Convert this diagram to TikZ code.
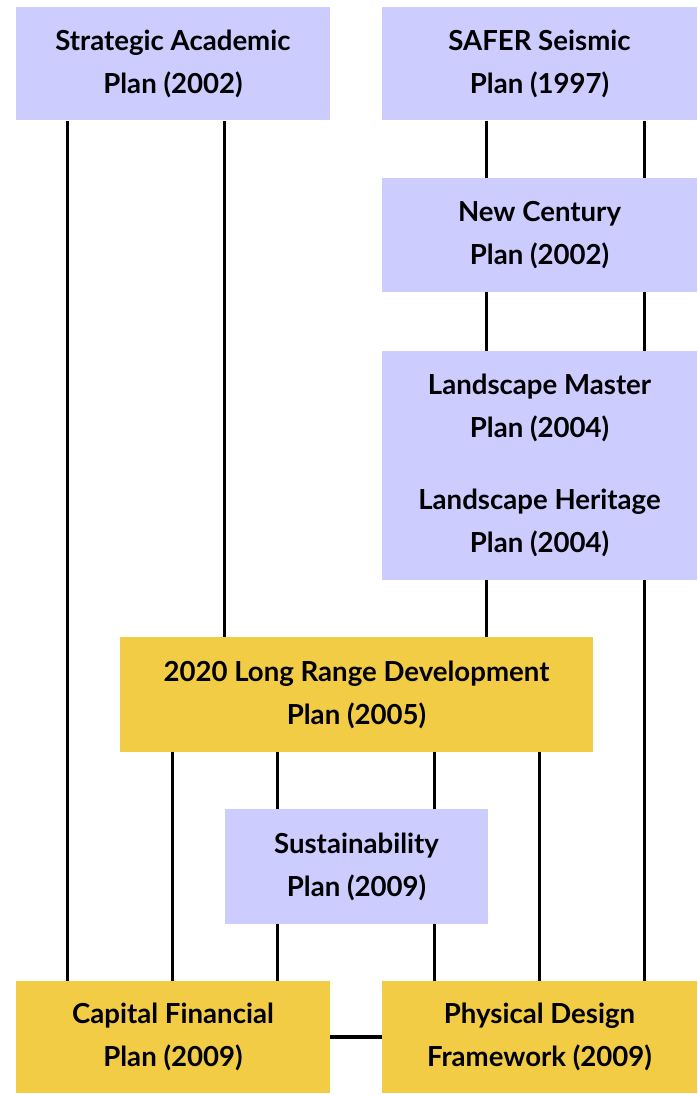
\documentclass[tikz,border=0pt]{standalone}
\usepackage{fontspec}
\setmainfont{Lato}
\definecolor{lav}{RGB}{204,204,255}
\definecolor{gold}{RGB}{242,204,68}
\newcommand\bxfont{\fontsize{27.6}{43}\selectfont\bfseries}
\tikzset{
  planbox/.style={rectangle, inner sep=0pt, font=\bxfont, align=center, text=black},
  lavbox/.style={planbox, fill=lav},
  goldbox/.style={planbox, fill=gold},
  link/.style={line width=3pt, black}
}
\begin{document}
\begin{tikzpicture}[x=1pt,y=-1pt]
\useasboundingbox[fill=white] (0,0) rectangle (698,1094);
\node[lavbox, minimum width=314pt, minimum height=113pt] (A) at (173,64) {Strategic Academic\\Plan (2002)};
\node[lavbox, minimum width=315pt, minimum height=113pt] (B) at (539.5,64) {SAFER Seismic\\Plan (1997)};
\node[lavbox, minimum width=315pt, minimum height=114pt] (C) at (539.5,235) {New Century\\Plan (2002)};
\node[lavbox, minimum width=315pt, minimum height=229pt] (D) at (539.5,465.5) {Landscape Master\\Plan (2004)\\[29pt]Landscape Heritage\\Plan (2004)};
\node[goldbox, minimum width=473pt, minimum height=115pt] (E) at (356.5,694.5) {2020 Long Range Development\\Plan (2005)};
\node[lavbox, minimum width=263pt, minimum height=115pt] (F) at (356.5,866.5) {Sustainability\\Plan (2009)};
\node[goldbox, minimum width=314pt, minimum height=112pt] (G) at (173,1037) {Capital Financial\\Plan (2009)};
\node[goldbox, minimum width=315pt, minimum height=112pt] (H) at (539.5,1037) {Physical Design\\Framework (2009)};
\coordinate (x67) at (67,0);
\coordinate (x224) at (224,0);
\coordinate (x486) at (486,0);
\coordinate (x644) at (644,0);
\coordinate (x172) at (172,0);
\coordinate (x277) at (277,0);
\coordinate (x434) at (434,0);
\coordinate (x539) at (539,0);
\draw[link] (A.south -| x67) -- (G.north -| x67);
\draw[link] (A.south -| x224) -- (E.north -| x224);
\draw[link] (B.south -| x486) -- (C.north -| x486);
\draw[link] (C.south -| x486) -- (D.north -| x486);
\draw[link] (D.south -| x486) -- (E.north -| x486);
\draw[link] (B.south -| x644) -- (C.north -| x644);
\draw[link] (C.south -| x644) -- (D.north -| x644);
\draw[link] (D.south -| x644) -- (H.north -| x644);
\draw[link] (E.south -| x172) -- (G.north -| x172);
\draw[link] (E.south -| x277) -- (F.north -| x277);
\draw[link] (F.south -| x277) -- (G.north -| x277);
\draw[link] (E.south -| x434) -- (F.north -| x434);
\draw[link] (F.south -| x434) -- (H.north -| x434);
\draw[link] (E.south -| x539) -- (H.north -| x539);
\draw[line width=3.5pt] (G.east) -- (H.west);
\end{tikzpicture}
\end{document}
